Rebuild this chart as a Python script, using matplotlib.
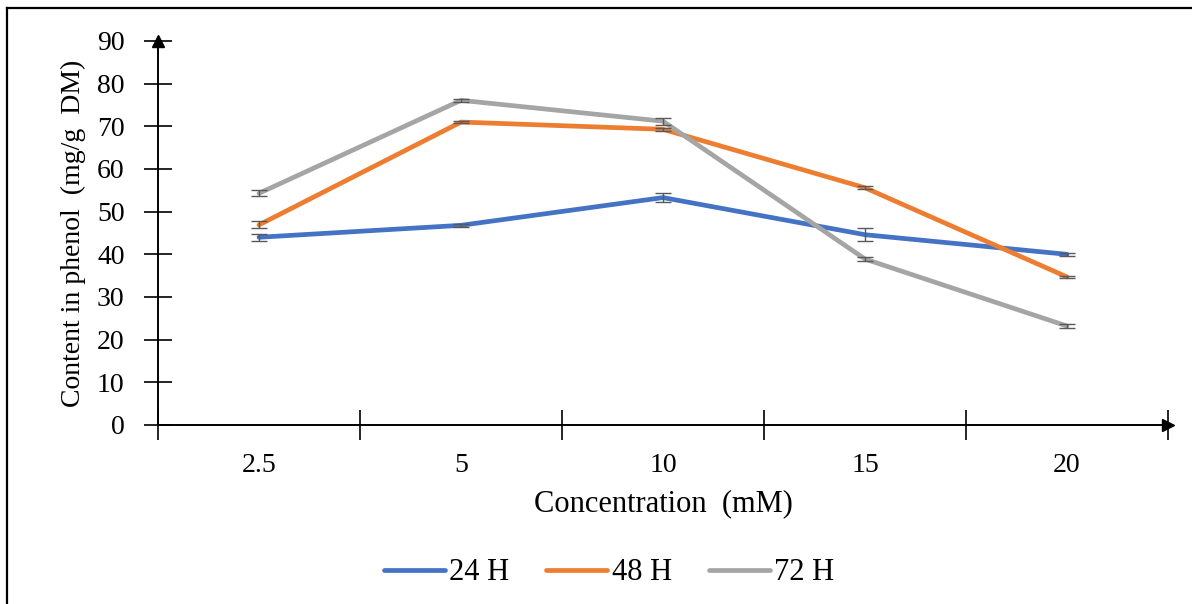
import matplotlib
matplotlib.use("Agg")
import matplotlib.pyplot as plt
from matplotlib.lines import Line2D
import numpy as np

categories = ["2.5", "5", "10", "15", "20"]
series_names = ["24 H", "48 H", "72 H"]
vals_24 = [44.0, 46.8, 53.3, 44.6, 40.0]
vals_48 = [46.9, 71.0, 69.3, 55.6, 34.7]
vals_72 = [54.3, 76.1, 71.2, 38.9, 23.2]
err_24 = [0.8, 0.3, 1.1, 1.5, 0.3]
err_48 = [0.8, 0.3, 0.4, 0.3, 0.3]
err_72 = [0.7, 0.4, 0.8, 0.4, 0.5]
colors = ["#4472C4", "#ED7D31", "#A5A5A5"]
yticks = [0, 10, 20, 30, 40, 50, 60, 70, 80, 90]

plt.rcParams['font.family'] = ['Liberation Serif', 'DejaVu Serif']

W, H = 1192, 604
fig = plt.figure(figsize=(W / 100, H / 100), dpi=100)
ax = fig.add_axes([158 / W, 1 - 425 / H, (1168 - 158) / W, (425 - 41) / H])

x = np.arange(len(categories)) + 0.5
for vals, errs, c, name in zip([vals_24, vals_48, vals_72], [err_24, err_48, err_72], colors, series_names):
    ax.plot(x, vals, color=c, lw=3.4, solid_capstyle='round', label=name, zorder=3)
    ax.errorbar(x, vals, yerr=errs, fmt='none', ecolor='#595959', elinewidth=1.0,
                capsize=6, capthick=1.0, zorder=4)

ax.set_xlim(0, len(categories))
ax.set_ylim(0, 90)
for s in ['top', 'right']:
    ax.spines[s].set_visible(False)
for s in ['left', 'bottom']:
    ax.spines[s].set_linewidth(1.4)
    ax.spines[s].set_color('black')

ax.set_yticks(yticks)
ax.set_yticklabels([str(v) for v in yticks], fontsize=20)
ax.tick_params(axis='y', direction='inout', length=20, width=1.2, pad=14)

ax.set_xticks(np.arange(len(categories) + 1))
ax.set_xticklabels([])
ax.tick_params(axis='x', which='major', direction='inout', length=22, width=1.2)
ax.set_xticks(x, minor=True)
ax.set_xticklabels(categories, minor=True, fontsize=20)
ax.tick_params(axis='x', which='minor', length=0, pad=20)

# axis arrows
ax.plot([0], [90], marker='^', color='black', markersize=9, clip_on=False, zorder=5)
ax.plot([len(categories)], [0], marker='>', color='black', markersize=9, clip_on=False, zorder=5)

ax.set_xlabel("Concentration  (mM)", fontsize=22, labelpad=8)
ax.set_ylabel("Content in phenol  (mg/g  DM)", fontsize=20, labelpad=8)

handles = [Line2D([0], [0], color=c, lw=3.4, solid_capstyle='round') for c in colors]
fig.legend(handles, series_names, loc='center', bbox_to_anchor=(609 / W, 1 - 573 / H),
           ncol=3, frameon=False, fontsize=22, handlelength=2.0, handletextpad=0.15,
           columnspacing=1.2)

# outer border (left and top visible)
fig.add_artist(Line2D([7 / W, 7 / W], [0, 1 - 8 / H], color='black', lw=1.6, transform=fig.transFigure))
fig.add_artist(Line2D([7 / W, 1], [1 - 8 / H, 1 - 8 / H], color='black', lw=1.6, transform=fig.transFigure))

fig.savefig("out.png", dpi=100)
